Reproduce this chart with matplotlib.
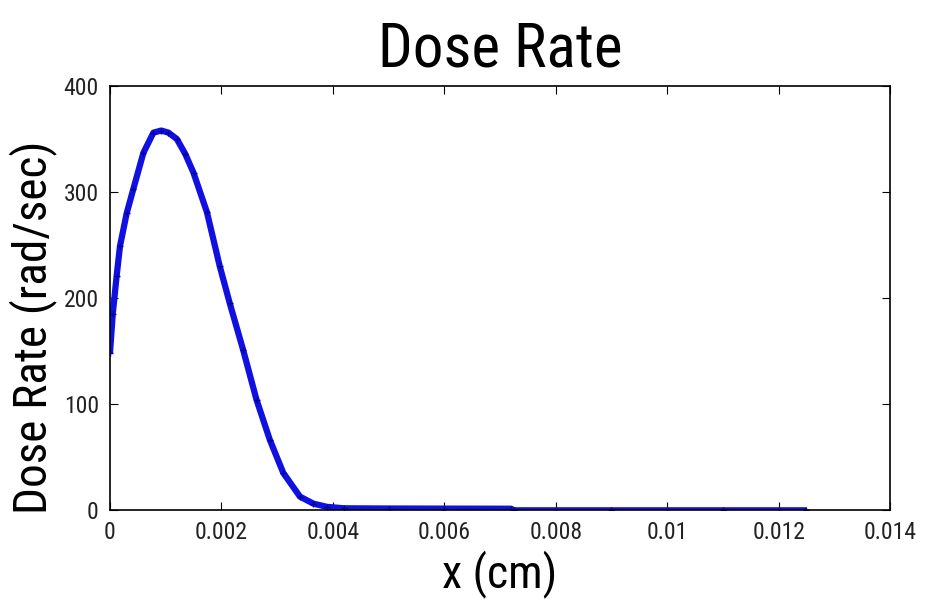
import matplotlib
matplotlib.use("Agg")
import matplotlib.pyplot as plt
import numpy as np

plt.rcParams['font.family'] = ['Roboto Condensed', 'Liberation Sans', 'DejaVu Sans']

# dose rate values
x_cm = [0.0, 0.00005, 0.00012, 0.00018, 0.00030, 0.00042, 0.00060, 0.00078,
        0.00092, 0.00105, 0.00120, 0.00135, 0.00150, 0.00174, 0.00197, 0.00215,
        0.00239, 0.00263, 0.00287, 0.00311, 0.00341, 0.00365, 0.00389, 0.00420,
        0.00500, 0.00600, 0.00720, 0.00725, 0.00900, 0.01100, 0.01250]
dose = [148, 185, 221, 249, 280, 303, 337, 356,
        358, 356, 350, 336, 318, 281, 230, 195,
        151, 104, 66, 35, 12.6, 6, 3, 1.6,
        1.4, 1.3, 1.2, -0.3, -0.3, -0.3, -0.3]

xticks = [0, 0.002, 0.004, 0.006, 0.008, 0.010, 0.012, 0.014]
xtick_labels = ['0', '0.002', '0.004', '0.006', '0.008', '0.01', '0.012', '0.014']
yticks = [0, 100, 200, 300, 400]

fig = plt.figure(figsize=(9.32, 5.99), dpi=100)
ax = fig.add_axes([0.118, 0.1486, 0.837, 0.7078])

ax.plot(x_cm, dose, color='#1010e0', lw=4.5, solid_capstyle='butt')
ax.plot(x_cm, dose, '+', color='#0000a0', ms=5, mew=1)

ax.set_xlim(0, 0.014)
ax.set_ylim(0, 400)
ax.set_xticks(xticks)
ax.set_xticklabels(xtick_labels)
ax.set_yticks(yticks)
ax.tick_params(direction='in', top=True, right=True, labelsize=17, length=6, pad=8,
               labelcolor='#222222')
for s in ax.spines.values():
    s.set_linewidth(1.2)

ax.set_title('Dose Rate', fontsize=44, pad=14)
ax.set_xlabel('x (cm)', fontsize=33, labelpad=4)
ax.set_ylabel('Dose Rate (rad/sec)', fontsize=34)
# matlab put the ylabel a bit below the axes centre
ax.yaxis.set_label_coords(-0.068, 0.43)

fig.savefig('out.png', dpi=100)
